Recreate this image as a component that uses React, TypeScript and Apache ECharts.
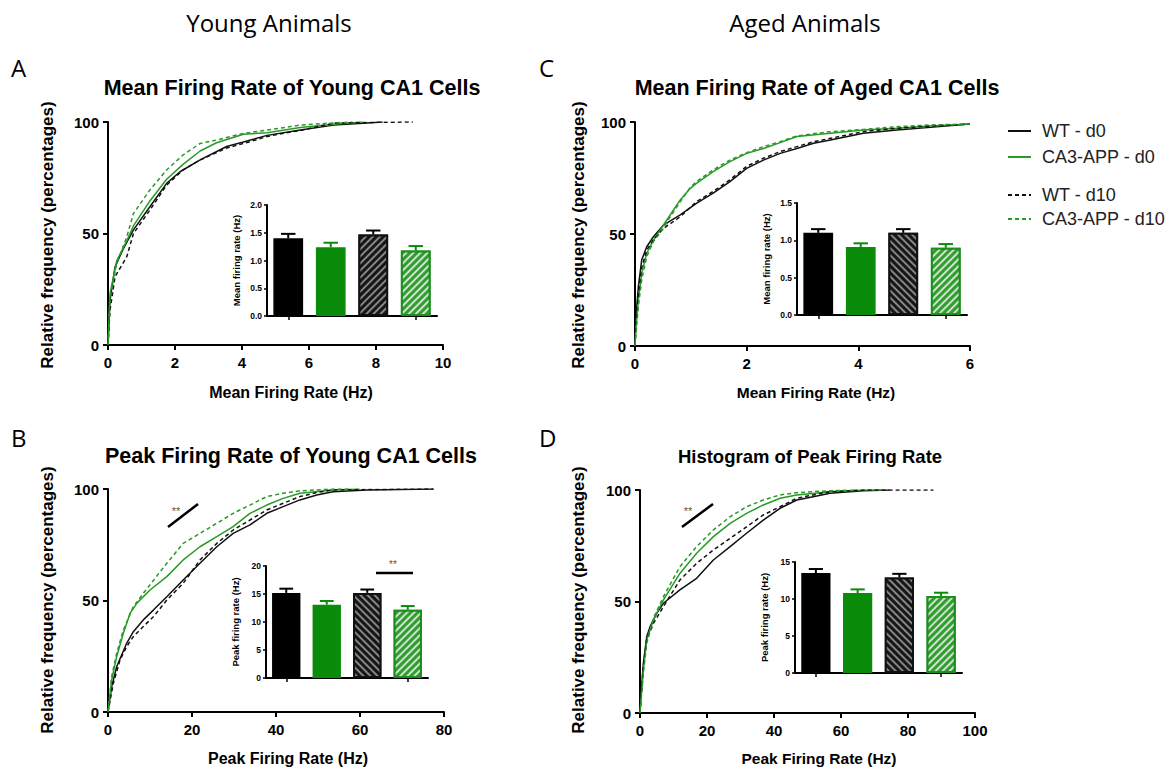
import React, { useEffect, useRef } from "react";
import * as echarts from "echarts";

type Pt = [number, number];

// ---------- Panel A: Mean firing rate, young (cumulative %) ----------
const youngMeanWT0: Pt[] = [[0,0],[0.06,20],[0.21,35],[0.44,42.6],[0.76,51.6],[1.25,62],[1.75,72.5],[2.15,77.7],[2.75,83],[3.54,89],[4.04,91],[4.75,94],[5.74,96.4],[6.74,98.6],[7.73,99.6],[8.2,100]];
const youngMeanAPP0: Pt[] = [[0,0],[0.06,23],[0.26,37.7],[0.56,46.7],[0.76,53.4],[1.25,64.6],[1.75,74.3],[2.24,81],[2.75,87],[3.24,90.7],[4.04,94.5],[4.75,95.2],[5.74,97.5],[6.74,99],[7.6,100]];
const youngMeanWT10: Pt[] = [[0,0],[0.06,15.6],[0.21,30.6],[0.56,39.6],[0.76,50],[1.25,60.5],[1.75,71.7],[2.24,78.5],[2.75,83],[3.54,88.3],[4.24,91.2],[4.75,93.5],[5.24,95],[5.74,96.2],[6.74,99.5],[7.73,99.8],[9.1,100]];
const youngMeanAPP10: Pt[] = [[0,0],[0.06,21.5],[0.26,36.5],[0.56,48.5],[0.76,59],[1.25,69.5],[1.75,78.5],[2.24,85.2],[2.75,90.4],[3.24,91.9],[4.04,94.9],[4.75,96.4],[5.74,98.6],[6.74,99.6],[7.3,100]];

// ---------- Panel C: Mean firing rate, aged ----------
const agedMeanWT0: Pt[] = [[0,0],[0.018,13],[0.06,26.5],[0.12,38.4],[0.21,44.3],[0.33,48.8],[0.51,54],[0.81,58.5],[1.1,63.7],[1.4,68.2],[1.7,73.4],[2.0,79.3],[2.3,83],[2.6,86],[2.9,88.2],[3.2,90.5],[3.5,92],[4.09,95],[4.69,96.4],[5.29,97.6],[6.0,99.1]];
const agedMeanAPP0: Pt[] = [[0,0],[0.018,8.6],[0.06,20.5],[0.12,32.4],[0.21,41.4],[0.33,47.3],[0.51,54],[0.63,58.5],[0.81,65.2],[0.99,70.4],[1.1,72.6],[1.4,77.8],[1.7,82.3],[2.0,86],[2.3,88.2],[2.6,90.8],[2.9,93.5],[3.5,95],[4.09,96.4],[4.69,97.2],[5.29,98.2],[6.0,99.1]];
const agedMeanWT10: Pt[] = [[0,0],[0.018,10],[0.06,23.5],[0.12,35],[0.21,42.9],[0.33,47.5],[0.51,52.5],[0.81,57.7],[1.1,64.4],[1.4,69],[1.7,74.2],[2.0,80.2],[2.3,83.8],[2.6,86.8],[2.9,89],[3.2,91.2],[3.5,92.7],[4.09,95.7],[4.69,97.2],[5.29,98.2],[6.0,99.1]];
const agedMeanAPP10: Pt[] = [[0,0],[0.018,5.7],[0.06,17.6],[0.12,29.5],[0.21,39.9],[0.33,46.6],[0.51,52.5],[0.63,57.7],[0.81,64.4],[0.99,70.8],[1.1,73.4],[1.4,78.6],[1.7,83],[2.0,86.3],[2.3,89],[2.6,91.2],[2.9,93.8],[3.5,95.7],[4.09,96.7],[4.69,97.9],[5.29,98.7],[6.0,99.1]];

// ---------- Panel B: Peak firing rate, young ----------
const youngPeakWT0: Pt[] = [[0,0],[0.87,11.4],[2.06,20.3],[4.44,30.8],[6.03,36],[8.4,41.3],[10.8,45.7],[14,51.7],[17.9,59.2],[21.9,66.7],[25.9,74.1],[29.8,80.1],[33.8,83.9],[37.8,89.1],[41.7,92.1],[45.7,95.1],[49.7,97.3],[53.6,98.8],[61.6,99.6],[77.5,100]];
const youngPeakAPP0: Pt[] = [[0,0],[0.87,14.3],[2.06,24.8],[3.65,35.3],[5.24,44.2],[6.83,48.7],[10,54.7],[14,60.7],[17.9,68.2],[21.9,74.1],[25.9,78.6],[29.8,83.1],[33.8,89.1],[37.8,92.8],[41.7,95.8],[45.7,98.1],[53.6,99.6],[59.9,100]];
const youngPeakWT10: Pt[] = [[0,0],[1.27,12.9],[2.86,23.3],[4.44,29.3],[6.03,33.8],[8.4,38.3],[10.8,42.7],[14,50.2],[17.9,57.7],[21.9,68.2],[25.9,75.6],[29.8,81.6],[33.8,86.1],[37.8,90.6],[41.7,93.6],[45.7,96.6],[49.7,98.4],[53.6,99.6],[77.5,100]];
const youngPeakAPP10: Pt[] = [[0,0],[0.87,15.8],[2.06,26.3],[3.65,36.8],[6.03,47.2],[8.4,53.2],[14,66.7],[17.9,75.6],[21.9,80.1],[25.9,84.6],[29.8,89.1],[33.8,92.8],[37.8,96.6],[41.7,98.1],[45.7,99.2],[53.6,100],[58,100]];

// ---------- Panel D: Peak firing rate, aged ----------
const agedPeakWT0: Pt[] = [[0,0],[0.3,8],[1,22.3],[2,34.2],[3,38.7],[5,44.7],[7,49.2],[11.9,55.2],[16.9,60.4],[21.9,68.6],[26.9,74.6],[31.8,80.6],[36.8,86.5],[41.8,91.8],[46.8,95.5],[51.7,97],[56.7,98.5],[66.7,99.7],[74.6,100]];
const agedPeakAPP0: Pt[] = [[0,0],[0.3,6],[1,19.3],[2,32.7],[4,41.7],[7,50.7],[11.9,62.6],[16.9,71.6],[21.9,79.1],[26.9,85],[31.8,89.5],[36.8,93.3],[41.8,96.3],[46.8,97.8],[56.7,99.2],[66.7,100],[72.6,100]];
const agedPeakWT10: Pt[] = [[0,0],[0.3,7],[1,20.8],[2,32.7],[4,40.2],[7,47.7],[11.9,59.6],[16.9,67.1],[21.9,73.1],[26.9,78.3],[31.8,83.5],[36.8,88.8],[41.8,92.5],[46.8,96.3],[51.7,97.8],[56.7,99.2],[66.7,100],[87.6,100]];
const agedPeakAPP10: Pt[] = [[0,0],[0.3,5],[1,17.8],[2,31.2],[4,42.5],[7,52.2],[11.9,65.6],[16.9,74.6],[21.9,82.1],[26.9,88],[31.8,92.5],[36.8,95.5],[41.8,97.8],[46.8,98.8],[56.7,99.7],[64.7,100]];

// ---------- Inset bar charts (mean, SEM) ----------
const groups = ["WT - d0", "CA3-APP - d0", "WT - d10", "CA3-APP - d10"];
const youngMeanBars = [1.40, 1.24, 1.47, 1.18];
const youngMeanSem = [0.08, 0.08, 0.07, 0.08];
const agedMeanBars = [1.10, 0.91, 1.10, 0.90];
const agedMeanSem = [0.05, 0.05, 0.05, 0.05];
const youngPeakBars = [15.2, 13.1, 15.2, 12.2];
const youngPeakSem = [0.75, 0.65, 0.6, 0.65];
const agedPeakBars = [13.5, 10.8, 12.9, 10.4];
const agedPeakSem = [0.55, 0.5, 0.5, 0.45];

const BLACK = "#111111";
const GREEN = "#279a27";
const BAR_GREEN = "#0a8c0a";
const ARIAL = "Liberation Sans, Arial, sans-serif";
const MYRIAD = "Open Sans, Noto Sans, sans-serif";

function mainAxes(grid: number, xmax: number, xint: number) {
  const axisLine = { show: true, onZero: false, lineStyle: { color: "#000", width: 2 } };
  const axisTick = { show: true, length: 5, lineStyle: { color: "#000", width: 2 } };
  const axisLabel = { color: "#000", fontWeight: "bold", fontSize: 15, fontFamily: ARIAL };
  return {
    x: { type: "value", gridIndex: grid, min: 0, max: xmax, interval: xint, axisLine, axisTick, axisLabel: { ...axisLabel, margin: 10 }, splitLine: { show: false } },
    y: { type: "value", gridIndex: grid, min: 0, max: 100, interval: 50, axisLine, axisTick, axisLabel: { ...axisLabel, margin: 9 }, splitLine: { show: false } },
  };
}

function insetAxes(grid: number, ymax: number, yint: number, name: string, decimals: number) {
  return {
    x: {
      type: "category", gridIndex: grid, data: groups,
      axisLine: { show: true, lineStyle: { color: "#000", width: 2 } },
      axisTick: { show: true, alignWithLabel: true, length: 4, lineStyle: { color: "#000", width: 1.5 } },
      axisLabel: { show: false },
    },
    y: {
      type: "value", gridIndex: grid, min: 0, max: ymax, interval: yint,
      axisLine: { show: true, lineStyle: { color: "#000", width: 2 } },
      axisTick: { show: true, length: 3, lineStyle: { color: "#000", width: 1.5 } },
      axisLabel: { color: "#000", fontWeight: "bold", fontSize: 8.5, fontFamily: ARIAL, margin: 5, formatter: (v: number) => v.toFixed(decimals) },
      splitLine: { show: false },
      name, nameLocation: "middle", nameGap: 26,
      nameTextStyle: { color: "#000", fontWeight: "bold", fontSize: 9.5, fontFamily: ARIAL },
    },
  };
}

function lineSeries(ax: number, wt0: Pt[], app0: Pt[], wt10: Pt[], app10: Pt[]) {
  const base = { type: "line", xAxisIndex: ax, yAxisIndex: ax, symbol: "none", showSymbol: false, z: 3 };
  return [
    { ...base, name: "WT - d0", data: wt0, lineStyle: { color: BLACK, width: 1.5 }, itemStyle: { color: BLACK } },
    { ...base, name: "CA3-APP - d0", data: app0, lineStyle: { color: GREEN, width: 1.5 }, itemStyle: { color: GREEN } },
    { ...base, name: "WT - d10", data: wt10, lineStyle: { color: BLACK, width: 1.5, type: [4, 3] }, itemStyle: { color: BLACK } },
    { ...base, name: "CA3-APP - d10", data: app10, lineStyle: { color: GREEN, width: 1.5, type: [4, 3] }, itemStyle: { color: GREEN } },
  ];
}

function stripe(color: string, rot: number) {
  return { symbol: "rect", symbolSize: 1, color, dashArrayX: [1, 0], dashArrayY: [2, 3], rotation: rot };
}

function barSeries(ax: number, vals: number[], sem: number[], rot3: number) {
  const styles = [
    { color: "#000", borderColor: "#000", borderWidth: 1.5 },
    { color: BAR_GREEN, borderColor: BAR_GREEN, borderWidth: 1.5 },
    { color: "#161616", borderColor: "#111", borderWidth: 2, decal: stripe("#858585", rot3) },
    { color: "#2f9e2f", borderColor: "#1d8f1d", borderWidth: 2, decal: stripe("#cfe0cf", -Math.PI / 4) },
  ];
  const errColors = ["#000", BAR_GREEN, "#000", BAR_GREEN];
  return [
    {
      type: "custom", name: "sem" + ax, xAxisIndex: ax, yAxisIndex: ax, z: 2,
      data: vals.map((v, i) => [i, v, v + sem[i]]),
      renderItem: (params: any, api: any) => {
        const i = api.value(0);
        const p0 = api.coord([i, api.value(1)]);
        const p1 = api.coord([i, api.value(2)]);
        const w = api.size([1, 0])[0] * 0.17;
        const c = errColors[params.dataIndex];
        return {
          type: "group",
          children: [
            { type: "line", shape: { x1: p0[0], y1: p0[1], x2: p1[0], y2: p1[1] }, style: { stroke: c, lineWidth: 2 } },
            { type: "line", shape: { x1: p1[0] - w, y1: p1[1], x2: p1[0] + w, y2: p1[1] }, style: { stroke: c, lineWidth: 2 } },
          ],
        };
      },
    },
    {
      type: "bar", name: "bars" + ax, xAxisIndex: ax, yAxisIndex: ax, barWidth: "70%", z: 3,
      data: vals.map((v, i) => ({ value: v, itemStyle: styles[i] })),
    },
  ];
}

function txt(text: string, x: number, y: number, size: number, weight: string, family: string, rotation = 0, align = "center") {
  return {
    type: "text", x, y, rotation,
    style: { text, fill: "#000", fontSize: size, fontWeight: weight, fontFamily: family, align, verticalAlign: "middle" },
  };
}

export default function App() {
  const ref = useRef<HTMLDivElement>(null);
  useEffect(() => {
    document.body.style.margin = "0";
    const chart = echarts.init(ref.current!, undefined, { renderer: "svg" });
    const A = mainAxes(0, 10, 2);
    const Ai = insetAxes(1, 2, 0.5, "Mean firing rate (Hz)", 1);
    const C = mainAxes(2, 6, 2);
    const Ci = insetAxes(3, 1.5, 0.5, "Mean firing rate (Hz)", 1);
    const B = mainAxes(4, 80, 20);
    const Bi = insetAxes(5, 20, 5, "Peak firing rate (Hz)", 0);
    const D = mainAxes(6, 100, 20);
    const Di = insetAxes(7, 15, 5, "Peak firing rate (Hz)", 0);

    const legendBase = {
      orient: "vertical", left: 1002, itemWidth: 23, itemHeight: 10, selectedMode: false,
      itemStyle: { opacity: 0 },
      textStyle: { fontSize: 18, color: "#222", fontFamily: ARIAL, padding: [0, 0, 0, 6] },
    };

    const option: any = {
      animation: false,
      backgroundColor: "#fff",
      grid: [
        { left: 108, top: 122, width: 335, height: 223 },
        { left: 267, top: 205, width: 170, height: 111 },
        { left: 635, top: 122, width: 335, height: 224 },
        { left: 797, top: 203, width: 170, height: 112 },
        { left: 108, top: 489, width: 336, height: 223 },
        { left: 266, top: 566, width: 162, height: 112 },
        { left: 640, top: 490, width: 335, height: 223 },
        { left: 795, top: 562, width: 167, height: 111 },
      ],
      xAxis: [A.x, Ai.x, C.x, Ci.x, B.x, Bi.x, D.x, Di.x],
      yAxis: [A.y, Ai.y, C.y, Ci.y, B.y, Bi.y, D.y, Di.y],
      legend: [
        { ...legendBase, data: ["WT - d0", "CA3-APP - d0"], top: 117, itemGap: 8 },
        { ...legendBase, data: ["WT - d10", "CA3-APP - d10"], top: 181, itemGap: 6 },
      ],
      series: [
        ...lineSeries(0, youngMeanWT0, youngMeanAPP0, youngMeanWT10, youngMeanAPP10),
        ...lineSeries(2, agedMeanWT0, agedMeanAPP0, agedMeanWT10, agedMeanAPP10),
        ...lineSeries(4, youngPeakWT0, youngPeakAPP0, youngPeakWT10, youngPeakAPP10),
        ...lineSeries(6, agedPeakWT0, agedPeakAPP0, agedPeakWT10, agedPeakAPP10),
        ...barSeries(1, youngMeanBars, youngMeanSem, -Math.PI / 4),
        ...barSeries(3, agedMeanBars, agedMeanSem, Math.PI / 4),
        ...barSeries(5, youngPeakBars, youngPeakSem, Math.PI / 4),
        ...barSeries(7, agedPeakBars, agedPeakSem, Math.PI / 4),
      ],
      graphic: [
        txt("Young Animals", 269, 22, 24, "normal", MYRIAD),
        txt("Aged Animals", 805, 22, 24, "normal", MYRIAD),
        txt("A", 11, 67, 24, "normal", MYRIAD, 0, "left"),
        txt("B", 11, 437, 24, "normal", MYRIAD, 0, "left"),
        txt("C", 539, 67, 24, "normal", MYRIAD, 0, "left"),
        txt("D", 539, 437, 24, "normal", MYRIAD, 0, "left"),
        txt("Mean Firing Rate of Young CA1 Cells", 292, 88, 21.5, "bold", ARIAL),
        txt("Mean Firing Rate of Aged CA1 Cells", 817, 88, 21.5, "bold", ARIAL),
        txt("Peak Firing Rate of Young CA1 Cells", 291, 456, 21.5, "bold", ARIAL),
        txt("Histogram of Peak Firing Rate", 810, 456, 18.5, "bold", ARIAL),
        txt("Mean Firing Rate (Hz)", 291, 392, 16, "bold", ARIAL),
        txt("Mean Firing Rate (Hz)", 816, 392, 15.5, "bold", ARIAL),
        txt("Peak Firing Rate (Hz)", 288, 758, 16, "bold", ARIAL),
        txt("Peak Firing Rate (Hz)", 819, 758, 15.5, "bold", ARIAL),
        txt("Relative frequency (percentages)", 47, 235, 17, "bold", ARIAL, Math.PI / 2),
        txt("Relative frequency (percentages)", 578, 235, 17, "bold", ARIAL, Math.PI / 2),
        txt("Relative frequency (percentages)", 47, 600, 17, "bold", ARIAL, Math.PI / 2),
        txt("Relative frequency (percentages)", 578, 600, 17, "bold", ARIAL, Math.PI / 2),
        { type: "line", shape: { x1: 168, y1: 527, x2: 198, y2: 504 }, style: { stroke: "#000", lineWidth: 2.5 } },
        { type: "text", x: 176, y: 511, style: { text: "**", fill: "#555555", fontSize: 11, fontFamily: ARIAL, align: "center", verticalAlign: "middle" } },
        { type: "line", shape: { x1: 682, y1: 527, x2: 713, y2: 504 }, style: { stroke: "#000", lineWidth: 2.5 } },
        { type: "text", x: 688, y: 511, style: { text: "**", fill: "#555555", fontSize: 11, fontFamily: ARIAL, align: "center", verticalAlign: "middle" } },
        { type: "line", shape: { x1: 376, y1: 573, x2: 413, y2: 573 }, style: { stroke: "#000", lineWidth: 2.5 } },
        { type: "text", x: 393, y: 564, style: { text: "**", fill: "#555555", fontSize: 10, fontFamily: ARIAL, align: "center", verticalAlign: "middle" } },
      ],
    };
    chart.setOption(option);
    return () => chart.dispose();
  }, []);
  return <div ref={ref} style={{ width: 1171, height: 772 }} />;
}
